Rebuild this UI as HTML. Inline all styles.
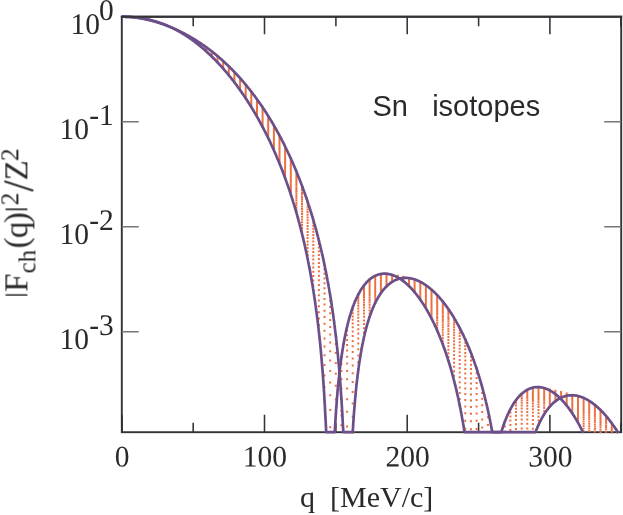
<!DOCTYPE html>
<html><head><meta charset="utf-8"><title>Sn isotopes form factor</title>
<style>html,body{margin:0;padding:0;background:#fff}body{width:623px;height:515px;position:relative;overflow:hidden;font-family:"Liberation Serif",serif}</style></head>
<body>
<svg width="623" height="515" viewBox="0 0 623 515" style="position:absolute;left:0;top:0">
<defs><clipPath id="c"><rect x="121.8" y="16.7" width="499.4" height="416.7"/></clipPath></defs>
<rect width="623" height="515" fill="#fff"/>
<rect x="121.8" y="16.7" width="499.4" height="415.5" fill="none" stroke="#333337" stroke-width="1.9"/>
<path d="M264.5,16.7v17.5M264.5,432.2v-17.5M407.2,16.7v17.5M407.2,432.2v-17.5M549.9,16.7v17.5M549.9,432.2v-17.5M193.2,16.7v9.5M193.2,432.2v-9.5M335.9,16.7v9.5M335.9,432.2v-9.5M478.6,16.7v9.5M478.6,432.2v-9.5M620.8,16.7v9.5M620.8,432.2v-9.5M122.1,432.2v-17" stroke="#333337" stroke-width="1.55" fill="none"/>
<path d="M121.8,121.7h17M621.2,121.7h-17M121.8,226.7h17M621.2,226.7h-17M121.8,331.7h17M621.2,331.7h-17" stroke="#777779" stroke-width="1.45" fill="none"/>
<g clip-path="url(#c)"><path d="M127.4,15.8v2M127.4,15.9v2M133.1,16.1v2M133.1,16.2v2M133.1,16.3v2M138.7,16.7v2M138.7,16.8v2M138.7,16.9v2M138.7,17v2M144.3,17.6v2M144.3,17.7v2M144.3,17.8v2M144.3,17.9v2M144.3,18v2M150,18.8v2M150,18.9v2M150,19v2M150,19.1v2M150,19.2v2M150,19.3v2M155.6,20.4v2M155.6,20.5v2M155.6,20.6v2M155.6,20.7v2M155.6,20.8v2M161.2,22.2v2M161.2,22.3v2M161.2,22.4v2M161.2,22.5v2M161.2,22.6v2M166.9,24.4v2M166.9,24.5v2M166.9,24.6v2M172.5,27v2M172.5,26.9v2M178.1,29.9v2M178.1,29.8v2M178.1,29.7v2M178.1,29.6v2M178.1,29.5v2M183.7,33.3v2M183.7,33.2v2M183.7,33.1v2M183.7,33v2M183.7,32.9v2M183.7,32.8v2M183.7,32.7v2M183.7,32.6v2M183.7,32.5v2M183.7,32.4v2M183.7,32.3v2M189.4,36.9v2M189.4,36.8v2M189.4,36.7v2M189.4,36.6v2M189.4,36.5v2M189.4,36.4v2M189.4,36.3v2M189.4,36.2v2M189.4,36.1v2M189.4,36v2M189.4,35.9v2M189.4,35.8v2M189.4,35.7v2M189.4,35.6v2M189.4,35.5v2M189.4,35.4v2M189.4,35.3v2M195,41v2M195,40.9v2M195,40.8v2M195,40.6v2M195,40.5v2M195,40.4v2M195,40.2v2M195,40.1v2M195,40v2M195,39.9v2M195,39.7v2M195,39.6v2M195,39.5v2M195,39.4v2M195,39.3v2M195,39.1v2M195,39v2M195,38.9v2M195,38.8v2M195,38.7v2M200.6,45.5v2M200.6,45.3v2M200.6,45.1v2M200.6,45v2M200.6,44.8v2M200.6,44.6v2M200.6,44.4v2M200.6,44.3v2M200.6,44.1v2M200.6,43.9v2M200.6,43.8v2M200.6,43.6v2M200.6,43.4v2M200.6,43.3v2M200.6,43.1v2M200.6,43v2M200.6,42.8v2M200.6,42.6v2M200.6,42.5v2M200.6,42.3v2M206.3,50.4v2M206.3,50.1v2M206.3,49.9v2M206.3,49.7v2M206.3,49.5v2M206.3,49.2v2M206.3,49v2M206.3,48.8v2M206.3,48.6v2M206.3,48.4v2M206.3,48.1v2M206.3,47.9v2M206.3,47.7v2M206.3,47.5v2M206.3,47.3v2M206.3,47.1v2M206.3,46.9v2M206.3,46.7v2M206.3,46.5v2M206.3,46.3v2M211.9,55.7v2M211.9,55.4v2M211.9,55.1v2M211.9,54.8v2M211.9,54.5v2M211.9,54.2v2M211.9,54v2M211.9,53.7v2M211.9,53.4v2M211.9,53.2v2M211.9,52.9v2M211.9,52.6v2M211.9,52.3v2M211.9,52.1v2M211.9,51.8v2M211.9,51.6v2M211.9,51.3v2M211.9,51v2M211.9,50.8v2M211.9,50.5v2M217.5,61.4v2M217.5,61v2M217.5,60.7v2M217.5,60.3v2M217.5,60v2M217.5,59.7v2M217.5,59.3v2M217.5,59v2M217.5,58.7v2M217.5,58.3v2M217.5,58v2M217.5,57.7v2M217.5,57.3v2M217.5,57v2M217.5,56.7v2M217.5,56.4v2M217.5,56v2M217.5,55.7v2M217.5,55.4v2M217.5,55.1v2M223.2,67.6v2M223.2,67.1v2M223.2,66.7v2M223.2,66.3v2M223.2,65.9v2M223.2,65.5v2M223.2,65.1v2M223.2,64.7v2M223.2,64.3v2M223.2,63.9v2M223.2,63.5v2M223.2,63.1v2M223.2,62.7v2M223.2,62.3v2M223.2,61.9v2M223.2,61.5v2M223.2,61.2v2M223.2,60.8v2M223.2,60.4v2M223.2,60v2M228.8,74.2v2M228.8,73.7v2M228.8,73.2v2M228.8,72.7v2M228.8,72.3v2M228.8,71.8v2M228.8,71.3v2M228.8,70.8v2M228.8,70.4v2M228.8,69.9v2M228.8,69.4v2M228.8,69v2M228.8,68.5v2M228.8,68v2M228.8,67.6v2M228.8,67.1v2M228.8,66.7v2M228.8,66.2v2M228.8,65.8v2M228.8,65.3v2M234.4,81.4v2M234.4,80.8v2M234.4,80.2v2M234.4,79.6v2M234.4,79.1v2M234.4,78.5v2M234.4,78v2M234.4,77.4v2M234.4,76.9v2M234.4,76.3v2M234.4,75.8v2M234.4,75.2v2M234.4,74.7v2M234.4,74.2v2M234.4,73.6v2M234.4,73.1v2M234.4,72.6v2M234.4,72.1v2M234.4,71.5v2M234.4,71v2M240.1,89v2M240.1,88.4v2M240.1,87.7v2M240.1,87.1v2M240.1,86.4v2M240.1,85.8v2M240.1,85.1v2M240.1,84.5v2M240.1,83.8v2M240.1,83.2v2M240.1,82.6v2M240.1,82v2M240.1,81.4v2M240.1,80.7v2M240.1,80.1v2M240.1,79.5v2M240.1,78.9v2M240.1,78.3v2M240.1,77.7v2M240.1,77.1v2M245.7,97.3v2M245.7,96.5v2M245.7,95.8v2M245.7,95v2M245.7,94.3v2M245.7,93.5v2M245.7,92.8v2M245.7,92.1v2M245.7,91.3v2M245.7,90.6v2M245.7,89.9v2M245.7,89.2v2M245.7,88.5v2M245.7,87.8v2M245.7,87.1v2M245.7,86.4v2M245.7,85.7v2M245.7,85v2M245.7,84.3v2M245.7,83.7v2M251.3,106.1v2M251.3,105.3v2M251.3,104.4v2M251.3,103.6v2M251.3,102.7v2M251.3,101.9v2M251.3,101v2M251.3,100.2v2M251.3,99.4v2M251.3,98.6v2M251.3,97.8v2M251.3,97v2M251.3,96.2v2M251.3,95.4v2M251.3,94.6v2M251.3,93.8v2M251.3,93v2M251.3,92.2v2M251.3,91.5v2M251.3,90.7v2M257,115.7v2M257,114.7v2M257,113.7v2M257,112.7v2M257,111.8v2M257,110.8v2M257,109.9v2M257,109v2M257,108v2M257,107.1v2M257,106.2v2M257,105.3v2M257,104.4v2M257,103.5v2M257,102.6v2M257,101.7v2M257,100.8v2M257,100v2M257,99.1v2M257,98.2v2M262.6,125.9v2M262.6,124.8v2M262.6,123.7v2M262.6,122.7v2M262.6,121.6v2M262.6,120.5v2M262.6,119.4v2M262.6,118.4v2M262.6,117.3v2M262.6,116.3v2M262.6,115.3v2M262.6,114.2v2M262.6,113.2v2M262.6,112.2v2M262.6,111.2v2M262.6,110.2v2M262.6,109.2v2M262.6,108.3v2M262.6,107.3v2M262.6,106.3v2M268.2,137.1v2M268.2,135.8v2M268.2,134.6v2M268.2,133.4v2M268.2,132.1v2M268.2,130.9v2M268.2,129.7v2M268.2,128.6v2M268.2,127.4v2M268.2,126.2v2M268.2,125v2M268.2,123.9v2M268.2,122.8v2M268.2,121.6v2M268.2,120.5v2M268.2,119.4v2M268.2,118.3v2M268.2,117.2v2M268.2,116.1v2M268.2,115v2M273.9,149.2v2M273.9,147.8v2M273.9,146.4v2M273.9,145v2M273.9,143.6v2M273.9,142.2v2M273.9,140.9v2M273.9,139.6v2M273.9,138.2v2M273.9,136.9v2M273.9,135.6v2M273.9,134.3v2M273.9,133v2M273.9,131.8v2M273.9,130.5v2M273.9,129.3v2M273.9,128v2M273.9,126.8v2M273.9,125.6v2M273.9,124.4v2M279.5,162.4v2M279.5,160.8v2M279.5,159.2v2M279.5,157.6v2M279.5,156.1v2M279.5,154.6v2M279.5,153v2M279.5,151.5v2M279.5,150v2M279.5,148.5v2M279.5,147.1v2M279.5,145.6v2M279.5,144.2v2M279.5,142.8v2M279.5,141.4v2M279.5,140v2M279.5,138.6v2M279.5,137.2v2M279.5,135.8v2M279.5,134.5v2M285.1,177v2M285.1,175.2v2M285.1,173.4v2M285.1,171.6v2M285.1,169.8v2M285.1,168v2M285.1,166.3v2M285.1,164.6v2M285.1,162.9v2M285.1,161.2v2M285.1,159.6v2M285.1,157.9v2M285.1,156.3v2M285.1,154.7v2M285.1,153.1v2M285.1,151.6v2M285.1,150v2M285.1,148.5v2M285.1,147v2M285.1,145.5v2M290.8,193.2v2M290.8,191.1v2M290.8,189v2M290.8,187v2M290.8,184.9v2M290.8,182.9v2M290.8,181v2M290.8,179v2M290.8,177.1v2M290.8,175.2v2M290.8,173.3v2M290.8,171.4v2M290.8,169.6v2M290.8,167.8v2M290.8,166v2M290.8,164.2v2M290.8,162.5v2M290.8,160.8v2M290.8,159.1v2M290.8,157.4v2M296.4,211.6v2M296.4,209.1v2M296.4,206.7v2M296.4,204.3v2M296.4,201.9v2M296.4,199.6v2M296.4,197.3v2M296.4,195v2M296.4,192.8v2M296.4,190.6v2M296.4,188.5v2M296.4,186.4v2M296.4,184.3v2M296.4,182.2v2M296.4,180.2v2M296.4,178.2v2M296.4,176.2v2M296.4,174.2v2M296.4,172.3v2M296.4,170.4v2M302,232.7v2M302,229.8v2M302,226.9v2M302,224v2M302,221.2v2M302,218.5v2M302,215.8v2M302,213.1v2M302,210.6v2M302,208v2M302,205.5v2M302,203.1v2M302,200.6v2M302,198.3v2M302,195.9v2M302,193.6v2M302,191.4v2M302,189.1v2M302,186.9v2M302,184.8v2M307.6,257.8v2M307.6,254.1v2M307.6,250.6v2M307.6,247.1v2M307.6,243.7v2M307.6,240.4v2M307.6,237.1v2M307.6,234v2M307.6,230.9v2M307.6,227.8v2M307.6,224.9v2M307.6,222v2M307.6,219.2v2M307.6,216.4v2M307.6,213.7v2M307.6,211v2M307.6,208.4v2M307.6,205.8v2M307.6,203.2v2M307.6,200.8v2M313.3,289v2M313.3,284.2v2M313.3,279.5v2M313.3,275.1v2M313.3,270.7v2M313.3,266.6v2M313.3,262.5v2M313.3,258.6v2M313.3,254.8v2M313.3,251.1v2M313.3,247.5v2M313.3,244v2M313.3,240.6v2M313.3,237.2v2M313.3,234v2M313.3,230.8v2M313.3,227.7v2M313.3,224.7v2M313.3,221.7v2M313.3,218.8v2M318.9,331.1v2M318.9,324.1v2M318.9,317.5v2M318.9,311.2v2M318.9,305.3v2M318.9,299.6v2M318.9,294.2v2M318.9,289.1v2M318.9,284.1v2M318.9,279.3v2M318.9,274.8v2M318.9,270.3v2M318.9,266v2M318.9,261.9v2M318.9,257.9v2M318.9,254v2M318.9,250.2v2M318.9,246.6v2M318.9,243v2M318.9,239.5v2M324.5,399.3v2M324.5,386.1v2M324.5,374.4v2M324.5,363.9v2M324.5,354.3v2M324.5,345.5v2M324.5,337.4v2M324.5,329.8v2M324.5,322.7v2M324.5,316v2M324.5,309.7v2M324.5,303.6v2M324.5,297.9v2M324.5,292.5v2M324.5,287.3v2M324.5,282.2v2M324.5,277.4v2M324.5,272.8v2M324.5,268.3v2M324.5,264v2M330.2,426.2v2M330.2,409v2M330.2,394.3v2M330.2,381.4v2M330.2,369.9v2M330.2,359.6v2M330.2,350.2v2M330.2,341.5v2M330.2,333.4v2M330.2,325.9v2M330.2,318.9v2M330.2,312.2v2M330.2,305.9v2M330.2,300v2M330.2,294.3v2M335.8,413.6v2M335.8,428.2v2M335.8,414.3v2M335.8,398.5v2M335.8,384.8v2M335.8,372.8v2M335.8,361.9v2M335.8,352.1v2M335.8,343.1v2M335.8,334.7v2M341.4,356.2v2M341.4,362.8v2M341.4,370.1v2M341.4,378.3v2M341.4,387.5v2M341.4,397.9v2M341.4,410v2M341.4,424.3v2M341.4,414.4v2M341.4,398.3v2M347.1,325.7v2M347.1,329.8v2M347.1,334.2v2M347.1,338.9v2M347.1,344.1v2M347.1,349.6v2M347.1,355.8v2M347.1,362.5v2M347.1,369.9v2M347.1,378.2v2M347.1,387.6v2M347.1,398.3v2M347.1,410.7v2M347.1,425.5v2M352.7,306.4v2M352.7,309.2v2M352.7,312.2v2M352.7,315.4v2M352.7,318.8v2M352.7,322.4v2M352.7,326.3v2M352.7,330.5v2M352.7,335v2M352.7,339.9v2M352.7,345.2v2M352.7,351v2M352.7,357.4v2M352.7,364.4v2M352.7,372.2v2M352.7,381v2M352.7,390.9v2M352.7,402.4v2M352.7,415.8v2M352.7,431.9v2M358.3,293.4v2M358.3,295.4v2M358.3,297.5v2M358.3,299.8v2M358.3,302.2v2M358.3,304.8v2M358.3,307.5v2M358.3,310.4v2M358.3,313.5v2M358.3,316.8v2M358.3,320.3v2M358.3,324.1v2M358.3,328.2v2M358.3,332.6v2M358.3,337.4v2M358.3,342.6v2M358.3,348.3v2M358.3,354.4v2M358.3,361.3v2M358.3,368.8v2M364,284.5v2M364,285.9v2M364,287.5v2M364,289.1v2M364,290.8v2M364,292.7v2M364,294.7v2M364,296.8v2M364,299v2M364,301.4v2M364,303.9v2M364,306.6v2M364,309.5v2M364,312.6v2M364,315.8v2M364,319.4v2M364,323.1v2M364,327.2v2M364,331.6v2M364,336.3v2M369.6,278.5v2M369.6,279.5v2M369.6,280.6v2M369.6,281.8v2M369.6,283.1v2M369.6,284.4v2M369.6,285.8v2M369.6,287.4v2M369.6,289v2M369.6,290.8v2M369.6,292.6v2M369.6,294.6v2M369.6,296.7v2M369.6,298.9v2M369.6,301.3v2M369.6,303.8v2M369.6,306.6v2M369.6,309.4v2M369.6,312.5v2M369.6,315.9v2M375.2,274.8v2M375.2,275.5v2M375.2,276.2v2M375.2,277v2M375.2,277.9v2M375.2,278.9v2M375.2,279.9v2M375.2,281v2M375.2,282.2v2M375.2,283.4v2M375.2,284.8v2M375.2,286.2v2M375.2,287.8v2M375.2,289.4v2M375.2,291.2v2M375.2,293.1v2M375.2,295.1v2M375.2,297.2v2M375.2,299.5v2M375.2,301.9v2M380.9,273v2M380.9,273.4v2M380.9,273.8v2M380.9,274.3v2M380.9,274.9v2M380.9,275.5v2M380.9,276.2v2M380.9,276.9v2M380.9,277.7v2M380.9,278.6v2M380.9,279.6v2M380.9,280.6v2M380.9,281.7v2M380.9,282.9v2M380.9,284.2v2M380.9,285.6v2M380.9,287.1v2M380.9,288.7v2M380.9,290.4v2M380.9,292.2v2M386.5,272.8v2M386.5,272.9v2M386.5,273v2M386.5,273.3v2M386.5,273.5v2M386.5,273.8v2M386.5,274.2v2M386.5,274.7v2M386.5,275.2v2M386.5,275.7v2M386.5,276.4v2M386.5,277.1v2M386.5,277.8v2M386.5,278.7v2M386.5,279.6v2M386.5,280.6v2M386.5,281.7v2M386.5,282.8v2M386.5,284.1v2M386.5,285.4v2M392.1,274v2M392.1,273.8v2M392.1,273.7v2M392.1,273.9v2M392.1,274.2v2M392.1,274.5v2M392.1,274.9v2M392.1,275.3v2M392.1,275.7v2M392.1,276.3v2M392.1,276.9v2M392.1,277.5v2M392.1,278.2v2M392.1,279v2M392.1,279.9v2M392.1,280.9v2M397.8,276.4v2M397.8,276v2M397.8,275.7v2M397.8,275.4v2M397.8,275.2v2M397.8,275v2M397.8,274.8v2M397.8,274.7v2M397.8,274.9v2M397.8,275.1v2M397.8,276.1v2M397.8,276.5v2M397.8,277v2M397.8,277.5v2M397.8,278.2v2M403.4,280.2v2M403.4,279.5v2M403.4,278.9v2M403.4,278.4v2M403.4,277.9v2M403.4,277.5v2M403.4,277.1v2M403.4,276.7v2M403.4,276.5v2M403.4,276.2v2M403.4,276.1v2M403.4,275.9v2M403.4,275.8v2M403.4,276v2M403.4,276.4v2M403.4,276.6v2M403.4,277v2M409,285.1v2M409,284.2v2M409,283.3v2M409,282.5v2M409,281.8v2M409,281.1v2M409,280.5v2M409,279.9v2M409,279.4v2M409,278.9v2M409,278.5v2M409,278.1v2M409,277.8v2M409,277.5v2M409,277.3v2M409,277.2v2M409,277.1v2M409,277v2M414.6,291.2v2M414.6,290v2M414.6,288.9v2M414.6,287.9v2M414.6,286.9v2M414.6,285.9v2M414.6,285v2M414.6,284.2v2M414.6,283.4v2M414.6,282.7v2M414.6,282v2M414.6,281.4v2M414.6,280.8v2M414.6,280.3v2M414.6,279.9v2M414.6,279.5v2M414.6,279.1v2M414.6,278.8v2M414.6,278.6v2M414.6,278.4v2M420.3,298.6v2M420.3,297.1v2M420.3,295.7v2M420.3,294.4v2M420.3,293.1v2M420.3,291.9v2M420.3,290.7v2M420.3,289.6v2M420.3,288.6v2M420.3,287.6v2M420.3,286.7v2M420.3,285.8v2M420.3,285v2M420.3,284.2v2M420.3,283.5v2M420.3,282.8v2M420.3,282.3v2M420.3,281.7v2M420.3,281.2v2M420.3,280.8v2M425.9,307.3v2M425.9,305.5v2M425.9,303.8v2M425.9,302.2v2M425.9,300.6v2M425.9,299.1v2M425.9,297.6v2M425.9,296.2v2M425.9,294.9v2M425.9,293.6v2M425.9,292.4v2M425.9,291.3v2M425.9,290.2v2M425.9,289.2v2M425.9,288.2v2M425.9,287.3v2M425.9,286.4v2M425.9,285.6v2M425.9,284.9v2M425.9,284.2v2M431.5,317.5v2M431.5,315.4v2M431.5,313.3v2M431.5,311.3v2M431.5,309.3v2M431.5,307.5v2M431.5,305.7v2M431.5,304v2M431.5,302.4v2M431.5,300.8v2M431.5,299.3v2M431.5,297.9v2M431.5,296.5v2M431.5,295.2v2M431.5,293.9v2M431.5,292.8v2M431.5,291.6v2M431.5,290.6v2M431.5,289.6v2M431.5,288.7v2M437.2,329.5v2M437.2,326.8v2M437.2,324.3v2M437.2,321.9v2M437.2,319.6v2M437.2,317.3v2M437.2,315.2v2M437.2,313.1v2M437.2,311.1v2M437.2,309.2v2M437.2,307.4v2M437.2,305.6v2M437.2,303.9v2M437.2,302.3v2M437.2,300.8v2M437.2,299.3v2M437.2,297.9v2M437.2,296.6v2M437.2,295.3v2M437.2,294.1v2M442.8,343.4v2M442.8,340.2v2M442.8,337.2v2M442.8,334.3v2M442.8,331.5v2M442.8,328.8v2M442.8,326.2v2M442.8,323.7v2M442.8,321.3v2M442.8,319v2M442.8,316.8v2M442.8,314.7v2M442.8,312.6v2M442.8,310.7v2M442.8,308.8v2M442.8,307v2M442.8,305.3v2M442.8,303.6v2M442.8,302.1v2M442.8,300.6v2M448.4,359.9v2M448.4,356v2M448.4,352.3v2M448.4,348.7v2M448.4,345.3v2M448.4,342.1v2M448.4,338.9v2M448.4,336v2M448.4,333.1v2M448.4,330.3v2M448.4,327.7v2M448.4,325.1v2M448.4,322.7v2M448.4,320.3v2M448.4,318.1v2M448.4,315.9v2M448.4,313.8v2M448.4,311.9v2M448.4,310v2M448.4,308.1v2M454.1,379.7v2M454.1,374.8v2M454.1,370.2v2M454.1,365.8v2M454.1,361.7v2M454.1,357.7v2M454.1,353.9v2M454.1,350.3v2M454.1,346.8v2M454.1,343.5v2M454.1,340.3v2M454.1,337.2v2M454.1,334.3v2M454.1,331.5v2M454.1,328.8v2M454.1,326.2v2M454.1,323.7v2M454.1,321.4v2M454.1,319.1v2M454.1,316.9v2M459.7,404.2v2M459.7,397.9v2M459.7,392v2M459.7,386.5v2M459.7,381.3v2M459.7,376.3v2M459.7,371.6v2M459.7,367.2v2M459.7,362.9v2M459.7,358.9v2M459.7,355v2M459.7,351.3v2M459.7,347.8v2M459.7,344.4v2M459.7,341.2v2M459.7,338.1v2M459.7,335.1v2M459.7,332.3v2M459.7,329.6v2M459.7,327v2M465.3,427.7v2M465.3,419.7v2M465.3,412.3v2M465.3,405.5v2M465.3,399.1v2M465.3,393.1v2M465.3,387.5v2M465.3,382.2v2M465.3,377.2v2M465.3,372.4v2M465.3,367.9v2M465.3,363.6v2M465.3,359.5v2M465.3,355.6v2M465.3,351.9v2M465.3,348.3v2M465.3,344.9v2M465.3,341.7v2M465.3,338.6v2M471,428.3v2M471,420.3v2M471,412.8v2M471,405.9v2M471,399.5v2M471,393.4v2M471,387.8v2M471,382.4v2M471,377.4v2M471,372.6v2M471,368v2M471,363.7v2M471,359.6v2M471,355.7v2M471,352v2M476.6,427.9v2M476.6,419.8v2M476.6,412.4v2M476.6,405.5v2M476.6,399v2M476.6,393v2M476.6,387.3v2M476.6,382v2M476.6,376.9v2M476.6,372.2v2M476.6,367.6v2M482.2,426.4v2M482.2,418.4v2M482.2,411.1v2M482.2,404.2v2M482.2,397.8v2M482.2,391.9v2M482.2,386.2v2M487.9,424v2M487.9,416.2v2M487.9,408.9v2M504.8,420.9v2M504.8,425.6v2M504.8,430.7v2M510.4,408.1v2M510.4,411.6v2M510.4,415.4v2M510.4,419.6v2M510.4,424.1v2M510.4,429.1v2M516,399.1v2M516,401.7v2M516,404.6v2M516,407.7v2M516,411v2M516,414.7v2M516,418.8v2M516,423.2v2M516,428v2M521.7,392.8v2M521.7,394.8v2M521.7,396.9v2M521.7,399.2v2M521.7,401.7v2M521.7,404.5v2M521.7,407.5v2M521.7,410.8v2M521.7,414.5v2M521.7,418.4v2M521.7,422.7v2M521.7,427.5v2M527.3,388.8v2M527.3,390.2v2M527.3,391.7v2M527.3,393.4v2M527.3,395.2v2M527.3,397.3v2M527.3,399.5v2M527.3,402v2M527.3,404.8v2M527.3,407.7v2M527.3,411v2M527.3,414.6v2M527.3,418.5v2M527.3,422.7v2M527.3,427.4v2M532.9,386.6v2M532.9,387.5v2M532.9,388.5v2M532.9,389.6v2M532.9,390.9v2M532.9,392.4v2M532.9,394.1v2M532.9,395.9v2M532.9,397.9v2M532.9,400.1v2M532.9,402.6v2M532.9,405.3v2M532.9,408.2v2M532.9,411.5v2M532.9,415v2M532.9,418.9v2M532.9,423.1v2M532.9,427.8v2M538.5,386.1v2M538.5,386.5v2M538.5,387v2M538.5,387.7v2M538.5,388.5v2M538.5,389.5v2M538.5,390.6v2M538.5,391.9v2M538.5,393.3v2M538.5,394.9v2M538.5,396.7v2M538.5,398.7v2M538.5,400.9v2M538.5,403.4v2M538.5,406v2M538.5,409v2M538.5,412.2v2M538.5,415.7v2M538.5,419.6v2M538.5,423.9v2M544.2,387.1v2M544.2,387.4v2M544.2,387.7v2M544.2,388.2v2M544.2,388.9v2M544.2,389.6v2M544.2,390.6v2M544.2,391.7v2M544.2,392.9v2M544.2,394.3v2M544.2,395.9v2M544.2,397.7v2M544.2,399.7v2M544.2,401.9v2M544.2,404.4v2M544.2,407v2M544.2,410v2M544.2,413.2v2M549.8,389.4v2M549.8,389v2M549.8,388.7v2M549.8,388.5v2M549.8,388.4v2M549.8,389.5v2M549.8,390.1v2M549.8,390.8v2M549.8,391.8v2M549.8,392.8v2M549.8,394.1v2M549.8,395.5v2M549.8,397.1v2M549.8,398.9v2M549.8,400.9v2M549.8,403.1v2M549.8,405.6v2M555.4,393.1v2M555.4,392.3v2M555.4,391.5v2M555.4,390.9v2M555.4,390.4v2M555.4,390.1v2M555.4,389.9v2M555.4,389.8v2M555.4,390v2M555.4,390.3v2M555.4,390.8v2M555.4,391.4v2M555.4,392.1v2M555.4,393v2M555.4,394.1v2M555.4,395.3v2M555.4,396.8v2M555.4,398.4v2M555.4,400.2v2M561.1,398.2v2M561.1,396.9v2M561.1,395.7v2M561.1,394.7v2M561.1,393.8v2M561.1,393v2M561.1,392.4v2M561.1,391.9v2M561.1,391.5v2M561.1,391.2v2M561.1,391.1v2M561.1,391.3v2M561.1,391.6v2M561.1,392.1v2M561.1,392.7v2M561.1,393.4v2M561.1,394.3v2M561.1,395.4v2M561.1,396.7v2M566.7,404.6v2M566.7,402.8v2M566.7,401.2v2M566.7,399.7v2M566.7,398.4v2M566.7,397.2v2M566.7,396.1v2M566.7,395.2v2M566.7,394.4v2M566.7,393.8v2M566.7,393.2v2M566.7,392.8v2M566.7,392.6v2M566.7,392.5v2M566.7,392.9v2M566.7,393.4v2M566.7,394v2M566.7,394.8v2M572.3,412.3v2M572.3,410.1v2M572.3,408v2M572.3,406.1v2M572.3,404.3v2M572.3,402.7v2M572.3,401.2v2M572.3,399.8v2M572.3,398.6v2M572.3,397.5v2M572.3,396.5v2M572.3,395.7v2M572.3,395.1v2M572.3,394.5v2M572.3,394.1v2M572.3,393.9v2M572.3,393.8v2M572.3,394v2M572.3,394.3v2M578,421.8v1.8M578,419.9v1.8M578,418v1.8M578,416.2v1.8M578,414.5v1.8M578,412.8v1.8M578,411.2v1.8M578,409.6v1.8M578,408.1v1.8M578,406.6v1.8M578,405.2v1.8M578,403.9v1.8M578,402.6v1.8M578,401.4v1.8M578,400.2v1.8M578,399.1v1.8M578,398v1.8M578,397v1.8M578,396v1.8M578,395.1v1.8M583.6,430.2v1.8M583.6,427.7v1.8M583.6,425.3v1.8M583.6,423v1.8M583.6,420.7v1.8M583.6,418.5v1.8M583.6,416.4v1.8M583.6,414.4v1.8M583.6,412.5v1.8M583.6,410.6v1.8M583.6,408.8v1.8M583.6,407v1.8M583.6,405.4v1.8M583.6,403.8v1.8M583.6,402.3v1.8M583.6,400.9v1.8M583.6,399.5v1.8M583.6,398.2v1.8M583.6,397v1.8M589.2,430.1v1.8M589.2,427.6v1.8M589.2,425.2v1.8M589.2,422.9v1.8M589.2,420.7v1.8M589.2,418.5v1.8M589.2,416.4v1.8M589.2,414.4v1.8M589.2,412.5v1.8M589.2,410.7v1.8M589.2,408.9v1.8M589.2,407.2v1.8M589.2,405.6v1.8M589.2,404.1v1.8M589.2,402.7v1.8M589.2,401.3v1.8M589.2,400v1.8M594.9,430.6v1.8M594.9,428.1v1.8M594.9,425.8v1.8M594.9,423.5v1.8M594.9,421.3v1.8M594.9,419.2v1.8M594.9,417.2v1.8M594.9,415.2v1.8M594.9,413.4v1.8M594.9,411.6v1.8M594.9,409.9v1.8M594.9,408.3v1.8M594.9,406.8v1.8M594.9,405.4v1.8M594.9,404v1.8M600.5,431.4v1.8M600.5,429v1.8M600.5,426.8v1.8M600.5,424.6v1.8M600.5,422.6v1.8M600.5,420.6v1.8M600.5,418.7v1.8M600.5,416.9v1.8M600.5,415.1v1.8M600.5,413.5v1.8M600.5,411.9v1.8M600.5,410.5v1.8M600.5,409.1v1.8M606.1,430.9v1.8M606.1,428.8v1.8M606.1,426.8v1.8M606.1,424.9v1.8M606.1,423v1.8M606.1,421.3v1.8M606.1,419.6v1.8M606.1,418.1v1.8M606.1,416.6v1.8M606.1,415.2v1.8M611.8,432.2v1.8M611.8,430.3v1.8M611.8,428.5v1.8M611.8,426.8v1.8M611.8,425.3v1.8M611.8,423.8v1.8M611.8,422.3v1.8M617.4,432v1.8M617.4,430.6v1.8" stroke="#ee7040" stroke-width="2" fill="none"/></g>
<path d="M123.2,16.7 123.6,16.7 123.9,16.7 124.3,16.7 124.7,16.7 125,16.7 125.4,16.7 125.7,16.8 126.1,16.8 126.4,16.8 126.8,16.8 127.2,16.8 127.5,16.8 127.9,16.8 128.2,16.8 128.6,16.9 128.9,16.9 129.3,16.9 129.6,16.9 130,16.9 130.4,17 130.7,17 131.1,17 131.4,17 131.8,17 132.1,17.1 132.5,17.1 132.9,17.1 133.2,17.2 133.6,17.2 133.9,17.2 134.3,17.3 134.6,17.3 135,17.3 135.4,17.4 135.7,17.4 136.1,17.4 136.4,17.5 136.8,17.5 137.1,17.6 137.5,17.6 137.9,17.6 138.2,17.7 138.6,17.7 138.9,17.8 139.3,17.8 139.6,17.9 140,17.9 140.4,18 140.7,18 141.1,18.1 141.4,18.1 141.8,18.2 142.1,18.3 142.5,18.3 142.8,18.4 143.2,18.4 143.6,18.5 143.9,18.6 144.3,18.6 144.6,18.7 145,18.8 145.3,18.8 145.7,18.9 146.1,19 146.4,19.1 146.8,19.1 147.1,19.2 147.5,19.3 147.8,19.4 148.2,19.4 148.6,19.5 148.9,19.6 149.3,19.7 149.6,19.8 150,19.8 150.3,19.9 150.7,20 151.1,20.1 151.4,20.2 151.8,20.3 152.1,20.4 152.5,20.5 152.8,20.6 153.2,20.7 153.6,20.8 153.9,20.9 154.3,21 154.6,21.1 155,21.2 155.3,21.3 155.7,21.4 156,21.5 156.4,21.6 156.8,21.7 157.1,21.8 157.5,22 157.8,22.1 158.2,22.2 158.5,22.3 158.9,22.4 159.3,22.5 159.6,22.7 160,22.8 160.3,22.9 160.7,23 161,23.2 161.4,23.3 161.8,23.4 162.1,23.6 162.5,23.7 162.8,23.8 163.2,24 163.5,24.1 163.9,24.2 164.3,24.4 164.6,24.5 165,24.7 165.3,24.8 165.7,25 166,25.1 166.4,25.3 166.8,25.4 167.1,25.6 167.5,25.7 167.8,25.9 168.2,26 168.5,26.2 168.9,26.3 169.2,26.5 169.6,26.7 170,26.8 170.3,27 170.7,27.1 171,27.3 171.4,27.5 171.7,27.7 172.1,27.8 172.5,28 172.8,28.2 173.2,28.4 173.5,28.5 173.9,28.7 174.2,28.9 174.6,29.1 175,29.3 175.3,29.4 175.7,29.6 176,29.8 176.4,30 176.7,30.2 177.1,30.4 177.5,30.6 177.8,30.8 178.2,31 178.5,31.2 178.9,31.4 179.2,31.6 179.6,31.8 180,32 180.3,32.2 180.7,32.4 181,32.6 181.4,32.8 181.7,33 182.1,33.2 182.4,33.5 182.8,33.7 183.2,33.9 183.5,34.1 183.9,34.3 184.2,34.6 184.6,34.8 184.9,35 185.3,35.2 185.7,35.5 186,35.7 186.4,35.9 186.7,36.2 187.1,36.4 187.4,36.6 187.8,36.9 188.2,37.1 188.5,37.4 188.9,37.6 189.2,37.8 189.6,38.1 189.9,38.3 190.3,38.6 190.7,38.8 191,39.1 191.4,39.3 191.7,39.6 192.1,39.8 192.4,40.1 192.8,40.4 193.2,40.6 193.5,40.9 193.9,41.2 194.2,41.4 194.6,41.7 194.9,42 195.3,42.2 195.6,42.5 196,42.8 196.4,43.1 196.7,43.3 197.1,43.6 197.4,43.9 197.8,44.2 198.1,44.5 198.5,44.7 198.9,45 199.2,45.3 199.6,45.6 199.9,45.9 200.3,46.2 200.6,46.5 201,46.8 201.4,47.1 201.7,47.4 202.1,47.7 202.4,48 202.8,48.3 203.1,48.6 203.5,48.9 203.9,49.2 204.2,49.5 204.6,49.8 204.9,50.2 205.3,50.5 205.6,50.8 206,51.1 206.3,51.4 206.7,51.8 207.1,52.1 207.4,52.4 207.8,52.7 208.1,53.1 208.5,53.4 208.8,53.7 209.2,54.1 209.6,54.4 209.9,54.7 210.3,55.1 210.6,55.4 211,55.8 211.3,56.1 211.7,56.5 212.1,56.8 212.4,57.2 212.8,57.5 213.1,57.9 213.5,58.2 213.8,58.6 214.2,58.9 214.6,59.3 214.9,59.7 215.3,60 215.6,60.4 216,60.8 216.3,61.1 216.7,61.5 217.1,61.9 217.4,62.2 217.8,62.6 218.1,63 218.5,63.4 218.8,63.8 219.2,64.2 219.5,64.5 219.9,64.9 220.3,65.3 220.6,65.7 221,66.1 221.3,66.5 221.7,66.9 222,67.3 222.4,67.7 222.8,68.1 223.1,68.5 223.5,68.9 223.8,69.3 224.2,69.7 224.5,70.1 224.9,70.6 225.3,71 225.6,71.4 226,71.8 226.3,72.2 226.7,72.7 227,73.1 227.4,73.5 227.8,73.9 228.1,74.4 228.5,74.8 228.8,75.2 229.2,75.7 229.5,76.1 229.9,76.6 230.3,77 230.6,77.4 231,77.9 231.3,78.3 231.7,78.8 232,79.2 232.4,79.7 232.7,80.2 233.1,80.6 233.5,81.1 233.8,81.5 234.2,82 234.5,82.5 234.9,83 235.2,83.4 235.6,83.9 236,84.4 236.3,84.9 236.7,85.3 237,85.8 237.4,86.3 237.7,86.8 238.1,87.3 238.5,87.8 238.8,88.3 239.2,88.8 239.5,89.3 239.9,89.8 240.2,90.3 240.6,90.8 241,91.3 241.3,91.8 241.7,92.3 242,92.8 242.4,93.3 242.7,93.9 243.1,94.4 243.5,94.9 243.8,95.4 244.2,96 244.5,96.5 244.9,97 245.2,97.6 245.6,98.1 245.9,98.6 246.3,99.2 246.7,99.7 247,100.3 247.4,100.8 247.7,101.4 248.1,101.9 248.4,102.5 248.8,103.1 249.2,103.6 249.5,104.2 249.9,104.8 250.2,105.3 250.6,105.9 250.9,106.5 251.3,107.1 251.7,107.7 252,108.2 252.4,108.8 252.7,109.4 253.1,110 253.4,110.6 253.8,111.2 254.2,111.8 254.5,112.4 254.9,113 255.2,113.6 255.6,114.3 255.9,114.9 256.3,115.5 256.7,116.1 257,116.7 257.4,117.4 257.7,118 258.1,118.6 258.4,119.3 258.8,119.9 259.1,120.6 259.5,121.2 259.9,121.9 260.2,122.5 260.6,123.2 260.9,123.8 261.3,124.5 261.6,125.2 262,125.8 262.4,126.5 262.7,127.2 263.1,127.9 263.4,128.5 263.8,129.2 264.1,129.9 264.5,130.6 264.9,131.3 265.2,132 265.6,132.7 265.9,133.4 266.3,134.1 266.6,134.9 267,135.6 267.4,136.3 267.7,137 268.1,137.8 268.4,138.5 268.8,139.2 269.1,140 269.5,140.7 269.9,141.5 270.2,142.2 270.6,143 270.9,143.7 271.3,144.5 271.6,145.3 272,146.1 272.3,146.8 272.7,147.6 273.1,148.4 273.4,149.2 273.8,150 274.1,150.8 274.5,151.6 274.8,152.4 275.2,153.2 275.6,154.1 275.9,154.9 276.3,155.7 276.6,156.5 277,157.4 277.3,158.2 277.7,159.1 278.1,159.9 278.4,160.8 278.8,161.7 279.1,162.5 279.5,163.4 279.8,164.3 280.2,165.2 280.6,166.1 280.9,167 281.3,167.9 281.6,168.8 282,169.7 282.3,170.6 282.7,171.5 283.1,172.5 283.4,173.4 283.8,174.4 284.1,175.3 284.5,176.3 284.8,177.2 285.2,178.2 285.5,179.2 285.9,180.2 286.3,181.2 286.6,182.1 287,183.2 287.3,184.2 287.7,185.2 288,186.2 288.4,187.2 288.8,188.3 289.1,189.3 289.5,190.4 289.8,191.5 290.2,192.5 290.5,193.6 290.9,194.7 291.3,195.8 291.6,196.9 292,198 292.3,199.1 292.7,200.3 293,201.4 293.4,202.6 293.8,203.7 294.1,204.9 294.5,206.1 294.8,207.3 295.2,208.5 295.5,209.7 295.9,210.9 296.3,212.1 296.6,213.4 297,214.6 297.3,215.9 297.7,217.2 298,218.5 298.4,219.8 298.7,221.1 299.1,222.4 299.5,223.7 299.8,225.1 300.2,226.5 300.5,227.8 300.9,229.2 301.2,230.6 301.6,232.1 302,233.5 302.3,235 302.7,236.4 303,237.9 303.4,239.4 303.7,240.9 304.1,242.5 304.5,244 304.8,245.6 305.2,247.2 305.5,248.8 305.9,250.4 306.2,252.1 306.6,253.8 307,255.5 307.3,257.2 307.7,258.9 308,260.7 308.4,262.5 308.7,264.3 309.1,266.1 309.5,268 309.8,269.9 310.2,271.8 310.5,273.8 310.9,275.8 311.2,277.8 311.6,279.8 311.9,281.9 312.3,284 312.7,286.2 313,288.4 313.4,290.6 313.7,292.9 314.1,295.2 314.4,297.6 314.8,300 315.2,302.5 315.5,305 315.9,307.5 316.2,310.2 316.6,312.9 316.9,315.6 317.3,318.4 317.7,321.3 318,324.3 318.4,327.3 318.7,330.4 319.1,333.7 319.4,337 319.8,340.4 320.2,343.9 320.5,347.5 320.9,351.3 321.2,355.2 321.6,359.2 321.9,363.4 322.3,367.7 322.7,372.3 323,377 323.4,382 323.7,387.2 324.1,392.7 324.4,398.5 324.8,404.6 325.1,411.1 325.5,418.1 325.9,425.6 326.2,432.2 334.4,432.2 334.8,432 335.1,425.5 335.5,419.5 335.9,413.9 336.2,408.7 336.6,403.8 336.9,399.1 337.3,394.8 337.6,390.7 338,386.8 338.3,383.1 338.7,379.6 339.1,376.2 339.4,373 339.8,369.9 340.1,367 340.5,364.2 340.8,361.5 341.2,358.8 341.6,356.3 341.9,353.9 342.3,351.6 342.6,349.4 343,347.2 343.3,345.1 343.7,343.1 344.1,341.1 344.4,339.2 344.8,337.4 345.1,335.6 345.5,333.8 345.8,332.2 346.2,330.5 346.6,328.9 346.9,327.4 347.3,325.9 347.6,324.5 348,323 348.3,321.7 348.7,320.3 349,319 349.4,317.7 349.8,316.5 350.1,315.3 350.5,314.1 350.8,313 351.2,311.9 351.5,310.8 351.9,309.7 352.3,308.7 352.6,307.7 353,306.7 353.3,305.7 353.7,304.8 354,303.9 354.4,303 354.8,302.1 355.1,301.2 355.5,300.4 355.8,299.6 356.2,298.8 356.5,298 356.9,297.3 357.3,296.5 357.6,295.8 358,295.1 358.3,294.4 358.7,293.8 359,293.1 359.4,292.5 359.8,291.8 360.1,291.2 360.5,290.6 360.8,290 361.2,289.5 361.5,288.9 361.9,288.4 362.2,287.8 362.6,287.3 363,286.8 363.3,286.3 363.7,285.9 364,285.4 364.4,284.9 364.7,284.5 365.1,284.1 365.5,283.6 365.8,283.2 366.2,282.8 366.5,282.4 366.9,282.1 367.2,281.7 367.6,281.3 368,281 368.3,280.6 368.7,280.3 369,280 369.4,279.7 369.7,279.4 370.1,279.1 370.5,278.8 370.8,278.5 371.2,278.3 371.5,278 371.9,277.8 372.2,277.5 372.6,277.3 373,277.1 373.3,276.8 373.7,276.6 374,276.4 374.4,276.2 374.7,276.1 375.1,275.9 375.4,275.7 375.8,275.6 376.2,275.4 376.5,275.2 376.9,275.1 377.2,275 377.6,274.8 377.9,274.7 378.3,274.6 378.7,274.5 379,274.4 379.4,274.3 379.7,274.2 380.1,274.1 380.4,274.1 380.8,274 381.2,273.9 381.5,273.9 381.9,273.8 382.2,273.8 382.6,273.8 382.9,273.7 383.3,273.7 383.7,273.7 384,273.7 384.4,273.7 384.7,273.7 385.1,273.7 385.4,273.7 385.8,273.7 386.2,273.7 386.5,273.8 386.9,273.8 387.2,273.8 387.6,273.9 387.9,273.9 388.3,274 388.6,274.1 389,274.1 389.4,274.2 389.7,274.3 390.1,274.4 390.4,274.5 390.8,274.6 391.1,274.7 391.5,274.8 391.9,274.9 392.2,275 392.6,275.1 392.9,275.2 393.3,275.4 393.6,275.5 394,275.6 394.4,275.8 394.7,275.9 395.1,276.1 395.4,276.3 395.8,276.4 396.1,276.6 396.5,276.8 396.9,277 397.2,277.1 397.6,277.3 397.9,277.5 398.3,277.7 398.6,277.9 399,278.1 399.4,278.4 399.7,278.6 400.1,278.8 400.4,279 400.8,279.3 401.1,279.5 401.5,279.8 401.8,280 402.2,280.3 402.6,280.5 402.9,280.8 403.3,281.1 403.6,281.3 404,281.6 404.3,281.9 404.7,282.2 405.1,282.5 405.4,282.8 405.8,283.1 406.1,283.4 406.5,283.7 406.8,284 407.2,284.3 407.6,284.7 407.9,285 408.3,285.3 408.6,285.7 409,286 409.3,286.4 409.7,286.7 410.1,287.1 410.4,287.5 410.8,287.8 411.1,288.2 411.5,288.6 411.8,289 412.2,289.4 412.6,289.8 412.9,290.2 413.3,290.6 413.6,291 414,291.4 414.3,291.8 414.7,292.2 415,292.7 415.4,293.1 415.8,293.6 416.1,294 416.5,294.5 416.8,294.9 417.2,295.4 417.5,295.8 417.9,296.3 418.3,296.8 418.6,297.3 419,297.8 419.3,298.2 419.7,298.7 420,299.2 420.4,299.8 420.8,300.3 421.1,300.8 421.5,301.3 421.8,301.8 422.2,302.4 422.5,302.9 422.9,303.5 423.3,304 423.6,304.6 424,305.1 424.3,305.7 424.7,306.3 425,306.9 425.4,307.5 425.8,308 426.1,308.6 426.5,309.3 426.8,309.9 427.2,310.5 427.5,311.1 427.9,311.7 428.2,312.4 428.6,313 429,313.7 429.3,314.3 429.7,315 430,315.6 430.4,316.3 430.7,317 431.1,317.7 431.5,318.4 431.8,319.1 432.2,319.8 432.5,320.5 432.9,321.2 433.2,321.9 433.6,322.7 434,323.4 434.3,324.2 434.7,324.9 435,325.7 435.4,326.5 435.7,327.2 436.1,328 436.5,328.8 436.8,329.6 437.2,330.4 437.5,331.3 437.9,332.1 438.2,332.9 438.6,333.8 439,334.6 439.3,335.5 439.7,336.3 440,337.2 440.4,338.1 440.7,339 441.1,339.9 441.4,340.8 441.8,341.7 442.2,342.7 442.5,343.6 442.9,344.6 443.2,345.5 443.6,346.5 443.9,347.5 444.3,348.5 444.7,349.5 445,350.5 445.4,351.5 445.7,352.6 446.1,353.6 446.4,354.7 446.8,355.8 447.2,356.8 447.5,357.9 447.9,359.1 448.2,360.2 448.6,361.3 448.9,362.5 449.3,363.6 449.7,364.8 450,366 450.4,367.2 450.7,368.4 451.1,369.7 451.4,370.9 451.8,372.2 452.2,373.5 452.5,374.8 452.9,376.1 453.2,377.4 453.6,378.8 453.9,380.1 454.3,381.5 454.6,382.9 455,384.3 455.4,385.8 455.7,387.3 456.1,388.7 456.4,390.2 456.8,391.8 457.1,393.3 457.5,394.9 457.9,396.5 458.2,398.1 458.6,399.8 458.9,401.5 459.3,403.2 459.6,404.9 460,406.7 460.4,408.5 460.7,410.3 461.1,412.1 461.4,414 461.8,416 462.1,417.9 462.5,419.9 462.9,421.9 463.2,424 463.6,426.1 463.9,428.3 464.3,430.5 464.6,432.2 501,432.2 501.4,431.9 501.7,430.7 502.1,429.6 502.5,428.5 502.8,427.4 503.2,426.3 503.5,425.3 503.9,424.3 504.2,423.3 504.6,422.3 504.9,421.3 505.3,420.4 505.7,419.5 506,418.6 506.4,417.7 506.7,416.9 507.1,416 507.4,415.2 507.8,414.4 508.2,413.6 508.5,412.9 508.9,412.1 509.2,411.4 509.6,410.7 509.9,410 510.3,409.3 510.7,408.6 511,408 511.4,407.3 511.7,406.7 512.1,406.1 512.4,405.5 512.8,404.9 513.2,404.3 513.5,403.7 513.9,403.2 514.2,402.6 514.6,402.1 514.9,401.6 515.3,401.1 515.7,400.6 516,400.1 516.4,399.6 516.7,399.2 517.1,398.7 517.4,398.3 517.8,397.9 518.1,397.4 518.5,397 518.9,396.6 519.2,396.2 519.6,395.9 519.9,395.5 520.3,395.1 520.6,394.8 521,394.4 521.4,394.1 521.7,393.8 522.1,393.5 522.4,393.2 522.8,392.9 523.1,392.6 523.5,392.3 523.9,392 524.2,391.8 524.6,391.5 524.9,391.2 525.3,391 525.6,390.8 526,390.6 526.4,390.3 526.7,390.1 527.1,389.9 527.4,389.7 527.8,389.5 528.1,389.4 528.5,389.2 528.9,389 529.2,388.9 529.6,388.7 529.9,388.6 530.3,388.4 530.6,388.3 531,388.2 531.3,388.1 531.7,388 532.1,387.9 532.4,387.8 532.8,387.7 533.1,387.6 533.5,387.5 533.8,387.4 534.2,387.4 534.6,387.3 534.9,387.3 535.3,387.2 535.6,387.2 536,387.2 536.3,387.1 536.7,387.1 537.1,387.1 537.4,387.1 537.8,387.1 538.1,387.1 538.5,387.1 538.8,387.1 539.2,387.2 539.6,387.2 539.9,387.2 540.3,387.3 540.6,387.3 541,387.4 541.3,387.4 541.7,387.5 542.1,387.5 542.4,387.6 542.8,387.7 543.1,387.8 543.5,387.9 543.8,388 544.2,388.1 544.5,388.2 544.9,388.3 545.3,388.4 545.6,388.6 546,388.7 546.3,388.8 546.7,389 547,389.1 547.4,389.3 547.8,389.4 548.1,389.6 548.5,389.8 548.8,389.9 549.2,390.1 549.5,390.3 549.9,390.5 550.3,390.7 550.6,390.9 551,391.1 551.3,391.3 551.7,391.5 552,391.7 552.4,392 552.8,392.2 553.1,392.4 553.5,392.7 553.8,392.9 554.2,393.2 554.5,393.5 554.9,393.7 555.3,394 555.6,394.3 556,394.6 556.3,394.8 556.7,395.1 557,395.4 557.4,395.7 557.7,396 558.1,396.4 558.5,396.7 558.8,397 559.2,397.3 559.5,397.7 559.9,398 560.2,398.4 560.6,398.7 561,399.1 561.3,399.4 561.7,399.8 562,400.2 562.4,400.5 562.7,400.9 563.1,401.3 563.5,401.7 563.8,402.1 564.2,402.5 564.5,402.9 564.9,403.3 565.2,403.8 565.6,404.2 566,404.6 566.3,405.1 566.7,405.5 567,406 567.4,406.4 567.7,406.9 568.1,407.3 568.5,407.8 568.8,408.3 569.2,408.8 569.5,409.3 569.9,409.8 570.2,410.3 570.6,410.8 570.9,411.3 571.3,411.8 571.7,412.3 572,412.9 572.4,413.4 572.7,413.9 573.1,414.5 573.4,415.1 573.8,415.6 574.2,416.2 574.5,416.8 574.9,417.3 575.2,417.9 575.6,418.5 575.9,419.1 576.3,419.7 576.7,420.3 577,421 577.4,421.6 577.7,422.2 578.1,422.9 578.4,423.5 578.8,424.2 579.2,424.8 579.5,425.5 579.9,426.2 580.2,426.8 580.6,427.5 580.9,428.2 581.3,428.9 581.7,429.6 582,430.4 582.4,431.1 582.7,431.8" stroke="#6b4f89" stroke-width="2.7" fill="none" stroke-linejoin="round" stroke-linecap="square"/>
<path d="M123.2,16.7 123.6,16.7 123.9,16.7 124.3,16.7 124.7,16.7 125,16.8 125.4,16.8 125.7,16.8 126.1,16.8 126.4,16.8 126.8,16.8 127.2,16.8 127.5,16.9 127.9,16.9 128.2,16.9 128.6,16.9 128.9,16.9 129.3,17 129.6,17 130,17 130.4,17.1 130.7,17.1 131.1,17.1 131.4,17.1 131.8,17.2 132.1,17.2 132.5,17.2 132.9,17.3 133.2,17.3 133.6,17.4 133.9,17.4 134.3,17.4 134.6,17.5 135,17.5 135.4,17.6 135.7,17.6 136.1,17.7 136.4,17.7 136.8,17.8 137.1,17.8 137.5,17.9 137.9,17.9 138.2,18 138.6,18 138.9,18.1 139.3,18.1 139.6,18.2 140,18.2 140.4,18.3 140.7,18.4 141.1,18.4 141.4,18.5 141.8,18.6 142.1,18.6 142.5,18.7 142.8,18.8 143.2,18.8 143.6,18.9 143.9,19 144.3,19 144.6,19.1 145,19.2 145.3,19.3 145.7,19.3 146.1,19.4 146.4,19.5 146.8,19.6 147.1,19.6 147.5,19.7 147.8,19.8 148.2,19.9 148.6,20 148.9,20.1 149.3,20.1 149.6,20.2 150,20.3 150.3,20.4 150.7,20.5 151.1,20.6 151.4,20.7 151.8,20.8 152.1,20.9 152.5,21 152.8,21.1 153.2,21.2 153.6,21.3 153.9,21.3 154.3,21.4 154.6,21.6 155,21.7 155.3,21.8 155.7,21.9 156,22 156.4,22.1 156.8,22.2 157.1,22.3 157.5,22.4 157.8,22.5 158.2,22.6 158.5,22.7 158.9,22.8 159.3,23 159.6,23.1 160,23.2 160.3,23.3 160.7,23.4 161,23.5 161.4,23.7 161.8,23.8 162.1,23.9 162.5,24 162.8,24.2 163.2,24.3 163.5,24.4 163.9,24.5 164.3,24.7 164.6,24.8 165,24.9 165.3,25.1 165.7,25.2 166,25.3 166.4,25.5 166.8,25.6 167.1,25.7 167.5,25.9 167.8,26 168.2,26.2 168.5,26.3 168.9,26.4 169.2,26.6 169.6,26.7 170,26.9 170.3,27 170.7,27.2 171,27.3 171.4,27.5 171.7,27.6 172.1,27.8 172.5,27.9 172.8,28.1 173.2,28.2 173.5,28.4 173.9,28.5 174.2,28.7 174.6,28.8 175,29 175.3,29.2 175.7,29.3 176,29.5 176.4,29.6 176.7,29.8 177.1,30 177.5,30.1 177.8,30.3 178.2,30.5 178.5,30.7 178.9,30.8 179.2,31 179.6,31.2 180,31.3 180.3,31.5 180.7,31.7 181,31.9 181.4,32 181.7,32.2 182.1,32.4 182.4,32.6 182.8,32.8 183.2,33 183.5,33.1 183.9,33.3 184.2,33.5 184.6,33.7 184.9,33.9 185.3,34.1 185.7,34.3 186,34.5 186.4,34.7 186.7,34.9 187.1,35 187.4,35.2 187.8,35.4 188.2,35.6 188.5,35.8 188.9,36 189.2,36.2 189.6,36.4 189.9,36.7 190.3,36.9 190.7,37.1 191,37.3 191.4,37.5 191.7,37.7 192.1,37.9 192.4,38.1 192.8,38.3 193.2,38.5 193.5,38.8 193.9,39 194.2,39.2 194.6,39.4 194.9,39.6 195.3,39.9 195.6,40.1 196,40.3 196.4,40.5 196.7,40.8 197.1,41 197.4,41.2 197.8,41.4 198.1,41.7 198.5,41.9 198.9,42.1 199.2,42.4 199.6,42.6 199.9,42.8 200.3,43.1 200.6,43.3 201,43.6 201.4,43.8 201.7,44 202.1,44.3 202.4,44.5 202.8,44.8 203.1,45 203.5,45.3 203.9,45.5 204.2,45.8 204.6,46 204.9,46.3 205.3,46.5 205.6,46.8 206,47.1 206.3,47.3 206.7,47.6 207.1,47.8 207.4,48.1 207.8,48.4 208.1,48.6 208.5,48.9 208.8,49.2 209.2,49.4 209.6,49.7 209.9,50 210.3,50.2 210.6,50.5 211,50.8 211.3,51.1 211.7,51.4 212.1,51.6 212.4,51.9 212.8,52.2 213.1,52.5 213.5,52.8 213.8,53.1 214.2,53.3 214.6,53.6 214.9,53.9 215.3,54.2 215.6,54.5 216,54.8 216.3,55.1 216.7,55.4 217.1,55.7 217.4,56 217.8,56.3 218.1,56.6 218.5,56.9 218.8,57.2 219.2,57.5 219.5,57.8 219.9,58.1 220.3,58.4 220.6,58.8 221,59.1 221.3,59.4 221.7,59.7 222,60 222.4,60.3 222.8,60.7 223.1,61 223.5,61.3 223.8,61.6 224.2,62 224.5,62.3 224.9,62.6 225.3,63 225.6,63.3 226,63.6 226.3,64 226.7,64.3 227,64.6 227.4,65 227.8,65.3 228.1,65.7 228.5,66 228.8,66.4 229.2,66.7 229.5,67.1 229.9,67.4 230.3,67.8 230.6,68.1 231,68.5 231.3,68.8 231.7,69.2 232,69.5 232.4,69.9 232.7,70.3 233.1,70.6 233.5,71 233.8,71.4 234.2,71.8 234.5,72.1 234.9,72.5 235.2,72.9 235.6,73.3 236,73.6 236.3,74 236.7,74.4 237,74.8 237.4,75.2 237.7,75.6 238.1,75.9 238.5,76.3 238.8,76.7 239.2,77.1 239.5,77.5 239.9,77.9 240.2,78.3 240.6,78.7 241,79.1 241.3,79.5 241.7,79.9 242,80.3 242.4,80.8 242.7,81.2 243.1,81.6 243.5,82 243.8,82.4 244.2,82.8 244.5,83.3 244.9,83.7 245.2,84.1 245.6,84.5 245.9,85 246.3,85.4 246.7,85.8 247,86.3 247.4,86.7 247.7,87.2 248.1,87.6 248.4,88 248.8,88.5 249.2,88.9 249.5,89.4 249.9,89.8 250.2,90.3 250.6,90.7 250.9,91.2 251.3,91.7 251.7,92.1 252,92.6 252.4,93 252.7,93.5 253.1,94 253.4,94.5 253.8,94.9 254.2,95.4 254.5,95.9 254.9,96.4 255.2,96.8 255.6,97.3 255.9,97.8 256.3,98.3 256.7,98.8 257,99.3 257.4,99.8 257.7,100.3 258.1,100.8 258.4,101.3 258.8,101.8 259.1,102.3 259.5,102.8 259.9,103.3 260.2,103.8 260.6,104.4 260.9,104.9 261.3,105.4 261.6,105.9 262,106.4 262.4,107 262.7,107.5 263.1,108 263.4,108.6 263.8,109.1 264.1,109.7 264.5,110.2 264.9,110.7 265.2,111.3 265.6,111.8 265.9,112.4 266.3,112.9 266.6,113.5 267,114.1 267.4,114.6 267.7,115.2 268.1,115.8 268.4,116.3 268.8,116.9 269.1,117.5 269.5,118.1 269.9,118.7 270.2,119.2 270.6,119.8 270.9,120.4 271.3,121 271.6,121.6 272,122.2 272.3,122.8 272.7,123.4 273.1,124 273.4,124.6 273.8,125.2 274.1,125.9 274.5,126.5 274.8,127.1 275.2,127.7 275.6,128.4 275.9,129 276.3,129.6 276.6,130.3 277,130.9 277.3,131.6 277.7,132.2 278.1,132.9 278.4,133.5 278.8,134.2 279.1,134.8 279.5,135.5 279.8,136.2 280.2,136.8 280.6,137.5 280.9,138.2 281.3,138.9 281.6,139.6 282,140.2 282.3,140.9 282.7,141.6 283.1,142.3 283.4,143 283.8,143.7 284.1,144.5 284.5,145.2 284.8,145.9 285.2,146.6 285.5,147.3 285.9,148.1 286.3,148.8 286.6,149.5 287,150.3 287.3,151 287.7,151.8 288,152.5 288.4,153.3 288.8,154 289.1,154.8 289.5,155.6 289.8,156.4 290.2,157.1 290.5,157.9 290.9,158.7 291.3,159.5 291.6,160.3 292,161.1 292.3,161.9 292.7,162.7 293,163.5 293.4,164.3 293.8,165.2 294.1,166 294.5,166.8 294.8,167.7 295.2,168.5 295.5,169.4 295.9,170.2 296.3,171.1 296.6,172 297,172.8 297.3,173.7 297.7,174.6 298,175.5 298.4,176.4 298.7,177.3 299.1,178.2 299.5,179.1 299.8,180 300.2,180.9 300.5,181.8 300.9,182.8 301.2,183.7 301.6,184.7 302,185.6 302.3,186.6 302.7,187.5 303,188.5 303.4,189.5 303.7,190.5 304.1,191.5 304.5,192.5 304.8,193.5 305.2,194.5 305.5,195.5 305.9,196.6 306.2,197.6 306.6,198.6 307,199.7 307.3,200.7 307.7,201.8 308,202.9 308.4,204 308.7,205.1 309.1,206.2 309.5,207.3 309.8,208.4 310.2,209.5 310.5,210.7 310.9,211.8 311.2,213 311.6,214.1 311.9,215.3 312.3,216.5 312.7,217.7 313,218.9 313.4,220.1 313.7,221.3 314.1,222.6 314.4,223.8 314.8,225.1 315.2,226.4 315.5,227.6 315.9,228.9 316.2,230.3 316.6,231.6 316.9,232.9 317.3,234.3 317.7,235.6 318,237 318.4,238.4 318.7,239.8 319.1,241.2 319.4,242.6 319.8,244.1 320.2,245.6 320.5,247 320.9,248.5 321.2,250 321.6,251.6 321.9,253.1 322.3,254.7 322.7,256.3 323,257.9 323.4,259.5 323.7,261.2 324.1,262.8 324.4,264.5 324.8,266.2 325.1,268 325.5,269.7 325.9,271.5 326.2,273.3 326.6,275.1 326.9,277 327.3,278.9 327.6,280.8 328,282.8 328.4,284.7 328.7,286.7 329.1,288.8 329.4,290.9 329.8,293 330.1,295.1 330.5,297.3 330.9,299.5 331.2,301.8 331.6,304.1 331.9,306.5 332.3,308.9 332.6,311.3 333,313.8 333.4,316.4 333.7,319 334.1,321.7 334.4,324.4 334.8,327.3 335.1,330.1 335.5,333.1 335.9,336.1 336.2,339.2 336.6,342.4 336.9,345.7 337.3,349.1 337.6,352.6 338,356.2 338.3,360 338.7,363.8 339.1,367.9 339.4,372 339.8,376.4 340.1,380.9 340.5,385.6 340.8,390.6 341.2,395.8 341.6,401.2 341.9,407 342.3,413.1 342.6,419.6 343,426.5 343.3,432.2 352.6,432.2 353,428.3 353.3,422.6 353.7,417.4 354,412.5 354.4,407.8 354.8,403.4 355.1,399.3 355.5,395.4 355.8,391.7 356.2,388.1 356.5,384.7 356.9,381.5 357.3,378.4 357.6,375.4 358,372.6 358.3,369.9 358.7,367.2 359,364.7 359.4,362.3 359.8,359.9 360.1,357.7 360.5,355.5 360.8,353.4 361.2,351.3 361.5,349.3 361.9,347.4 362.2,345.6 362.6,343.7 363,342 363.3,340.3 363.7,338.6 364,337 364.4,335.5 364.7,334 365.1,332.5 365.5,331 365.8,329.7 366.2,328.3 366.5,327 366.9,325.7 367.2,324.4 367.6,323.2 368,322 368.3,320.8 368.7,319.7 369,318.6 369.4,317.5 369.7,316.4 370.1,315.4 370.5,314.4 370.8,313.4 371.2,312.4 371.5,311.5 371.9,310.6 372.2,309.7 372.6,308.8 373,307.9 373.3,307.1 373.7,306.3 374,305.5 374.4,304.7 374.7,303.9 375.1,303.2 375.4,302.5 375.8,301.7 376.2,301 376.5,300.4 376.9,299.7 377.2,299 377.6,298.4 377.9,297.8 378.3,297.2 378.7,296.6 379,296 379.4,295.4 379.7,294.8 380.1,294.3 380.4,293.8 380.8,293.2 381.2,292.7 381.5,292.2 381.9,291.8 382.2,291.3 382.6,290.8 382.9,290.4 383.3,289.9 383.7,289.5 384,289.1 384.4,288.6 384.7,288.2 385.1,287.9 385.4,287.5 385.8,287.1 386.2,286.7 386.5,286.4 386.9,286 387.2,285.7 387.6,285.4 387.9,285 388.3,284.7 388.6,284.4 389,284.1 389.4,283.8 389.7,283.6 390.1,283.3 390.4,283 390.8,282.8 391.1,282.5 391.5,282.3 391.9,282 392.2,281.8 392.6,281.6 392.9,281.4 393.3,281.2 393.6,281 394,280.8 394.4,280.6 394.7,280.4 395.1,280.3 395.4,280.1 395.8,279.9 396.1,279.8 396.5,279.6 396.9,279.5 397.2,279.4 397.6,279.2 397.9,279.1 398.3,279 398.6,278.9 399,278.8 399.4,278.7 399.7,278.6 400.1,278.5 400.4,278.4 400.8,278.4 401.1,278.3 401.5,278.2 401.8,278.2 402.2,278.1 402.6,278.1 402.9,278 403.3,278 403.6,278 404,277.9 404.3,277.9 404.7,277.9 405.1,277.9 405.4,277.9 405.8,277.9 406.1,277.9 406.5,277.9 406.8,277.9 407.2,277.9 407.6,278 407.9,278 408.3,278 408.6,278.1 409,278.1 409.3,278.2 409.7,278.2 410.1,278.3 410.4,278.3 410.8,278.4 411.1,278.5 411.5,278.5 411.8,278.6 412.2,278.7 412.6,278.8 412.9,278.9 413.3,279 413.6,279.1 414,279.2 414.3,279.3 414.7,279.4 415,279.6 415.4,279.7 415.8,279.8 416.1,279.9 416.5,280.1 416.8,280.2 417.2,280.4 417.5,280.5 417.9,280.7 418.3,280.8 418.6,281 419,281.2 419.3,281.3 419.7,281.5 420,281.7 420.4,281.9 420.8,282.1 421.1,282.3 421.5,282.4 421.8,282.6 422.2,282.9 422.5,283.1 422.9,283.3 423.3,283.5 423.6,283.7 424,283.9 424.3,284.2 424.7,284.4 425,284.6 425.4,284.9 425.8,285.1 426.1,285.4 426.5,285.6 426.8,285.9 427.2,286.1 427.5,286.4 427.9,286.7 428.2,286.9 428.6,287.2 429,287.5 429.3,287.8 429.7,288.1 430,288.4 430.4,288.7 430.7,289 431.1,289.3 431.5,289.6 431.8,289.9 432.2,290.2 432.5,290.5 432.9,290.9 433.2,291.2 433.6,291.5 434,291.9 434.3,292.2 434.7,292.5 435,292.9 435.4,293.3 435.7,293.6 436.1,294 436.5,294.3 436.8,294.7 437.2,295.1 437.5,295.5 437.9,295.8 438.2,296.2 438.6,296.6 439,297 439.3,297.4 439.7,297.8 440,298.2 440.4,298.6 440.7,299.1 441.1,299.5 441.4,299.9 441.8,300.3 442.2,300.8 442.5,301.2 442.9,301.6 443.2,302.1 443.6,302.5 443.9,303 444.3,303.5 444.7,303.9 445,304.4 445.4,304.9 445.7,305.3 446.1,305.8 446.4,306.3 446.8,306.8 447.2,307.3 447.5,307.8 447.9,308.3 448.2,308.8 448.6,309.3 448.9,309.9 449.3,310.4 449.7,310.9 450,311.4 450.4,312 450.7,312.5 451.1,313.1 451.4,313.6 451.8,314.2 452.2,314.8 452.5,315.3 452.9,315.9 453.2,316.5 453.6,317.1 453.9,317.7 454.3,318.3 454.6,318.9 455,319.5 455.4,320.1 455.7,320.7 456.1,321.3 456.4,321.9 456.8,322.6 457.1,323.2 457.5,323.9 457.9,324.5 458.2,325.2 458.6,325.8 458.9,326.5 459.3,327.2 459.6,327.8 460,328.5 460.4,329.2 460.7,329.9 461.1,330.6 461.4,331.3 461.8,332 462.1,332.8 462.5,333.5 462.9,334.2 463.2,335 463.6,335.7 463.9,336.5 464.3,337.3 464.6,338 465,338.8 465.4,339.6 465.7,340.4 466.1,341.2 466.4,342 466.8,342.8 467.1,343.6 467.5,344.5 467.8,345.3 468.2,346.1 468.6,347 468.9,347.9 469.3,348.7 469.6,349.6 470,350.5 470.3,351.4 470.7,352.3 471.1,353.2 471.4,354.1 471.8,355.1 472.1,356 472.5,356.9 472.8,357.9 473.2,358.9 473.6,359.9 473.9,360.8 474.3,361.8 474.6,362.9 475,363.9 475.3,364.9 475.7,365.9 476.1,367 476.4,368.1 476.8,369.1 477.1,370.2 477.5,371.3 477.8,372.4 478.2,373.6 478.6,374.7 478.9,375.9 479.3,377 479.6,378.2 480,379.4 480.3,380.6 480.7,381.8 481,383 481.4,384.3 481.8,385.6 482.1,386.8 482.5,388.1 482.8,389.4 483.2,390.8 483.5,392.1 483.9,393.5 484.3,394.9 484.6,396.3 485,397.7 485.3,399.1 485.7,400.6 486,402.1 486.4,403.6 486.8,405.1 487.1,406.6 487.5,408.2 487.8,409.8 488.2,411.4 488.5,413 488.9,414.7 489.3,416.4 489.6,418.1 490,419.9 490.3,421.7 490.7,423.5 491,425.3 491.4,427.2 491.7,429.1 492.1,431 492.5,432.2 535.3,432.2 535.6,431.9 536,430.9 536.3,430 536.7,429.2 537.1,428.3 537.4,427.4 537.8,426.6 538.1,425.8 538.5,425 538.8,424.2 539.2,423.4 539.6,422.7 539.9,422 540.3,421.2 540.6,420.5 541,419.8 541.3,419.2 541.7,418.5 542.1,417.8 542.4,417.2 542.8,416.6 543.1,416 543.5,415.4 543.8,414.8 544.2,414.2 544.5,413.6 544.9,413.1 545.3,412.5 545.6,412 546,411.5 546.3,411 546.7,410.5 547,410 547.4,409.5 547.8,409.1 548.1,408.6 548.5,408.2 548.8,407.7 549.2,407.3 549.5,406.9 549.9,406.5 550.3,406.1 550.6,405.7 551,405.3 551.3,404.9 551.7,404.5 552,404.2 552.4,403.8 552.8,403.5 553.1,403.2 553.5,402.8 553.8,402.5 554.2,402.2 554.5,401.9 554.9,401.6 555.3,401.3 555.6,401.1 556,400.8 556.3,400.5 556.7,400.3 557,400 557.4,399.8 557.7,399.6 558.1,399.3 558.5,399.1 558.8,398.9 559.2,398.7 559.5,398.5 559.9,398.3 560.2,398.1 560.6,397.9 561,397.8 561.3,397.6 561.7,397.4 562,397.3 562.4,397.1 562.7,397 563.1,396.8 563.5,396.7 563.8,396.6 564.2,396.5 564.5,396.4 564.9,396.2 565.2,396.1 565.6,396.1 566,396 566.3,395.9 566.7,395.8 567,395.7 567.4,395.7 567.7,395.6 568.1,395.5 568.5,395.5 568.8,395.4 569.2,395.4 569.5,395.4 569.9,395.3 570.2,395.3 570.6,395.3 570.9,395.3 571.3,395.3 571.7,395.3 572,395.3 572.4,395.3 572.7,395.3 573.1,395.3 573.4,395.3 573.8,395.4 574.2,395.4 574.5,395.4 574.9,395.5 575.2,395.5 575.6,395.6 575.9,395.6 576.3,395.7 576.7,395.7 577,395.8 577.4,395.9 577.7,396 578.1,396 578.4,396.1 578.8,396.2 579.2,396.3 579.5,396.4 579.9,396.5 580.2,396.6 580.6,396.8 580.9,396.9 581.3,397 581.7,397.1 582,397.3 582.4,397.4 582.7,397.5 583.1,397.7 583.4,397.8 583.8,398 584.1,398.1 584.5,398.3 584.9,398.5 585.2,398.7 585.6,398.8 585.9,399 586.3,399.2 586.6,399.4 587,399.6 587.4,399.8 587.7,400 588.1,400.2 588.4,400.4 588.8,400.6 589.1,400.8 589.5,401.1 589.9,401.3 590.2,401.5 590.6,401.7 590.9,402 591.3,402.2 591.6,402.5 592,402.7 592.4,403 592.7,403.3 593.1,403.5 593.4,403.8 593.8,404.1 594.1,404.3 594.5,404.6 594.9,404.9 595.2,405.2 595.6,405.5 595.9,405.8 596.3,406.1 596.6,406.4 597,406.7 597.3,407 597.7,407.3 598.1,407.7 598.4,408 598.8,408.3 599.1,408.6 599.5,409 599.8,409.3 600.2,409.7 600.6,410 600.9,410.4 601.3,410.7 601.6,411.1 602,411.5 602.3,411.9 602.7,412.2 603.1,412.6 603.4,413 603.8,413.4 604.1,413.8 604.5,414.2 604.8,414.6 605.2,415 605.6,415.4 605.9,415.8 606.3,416.2 606.6,416.6 607,417.1 607.3,417.5 607.7,417.9 608.1,418.4 608.4,418.8 608.8,419.3 609.1,419.7 609.5,420.2 609.8,420.6 610.2,421.1 610.5,421.6 610.9,422.1 611.3,422.5 611.6,423 612,423.5 612.3,424 612.7,424.5 613,425 613.4,425.5 613.8,426 614.1,426.5 614.5,427.1 614.8,427.6 615.2,428.1 615.5,428.7 615.9,429.2 616.3,429.7 616.6,430.3 617,430.8 617.3,431.4 617.7,432" stroke="#6b4f89" stroke-width="2.7" fill="none" stroke-linejoin="round" stroke-linecap="square"/>
<path d="M120.8,16.7H622.2" stroke="#333337" stroke-width="1.9" fill="none"/>
<g opacity="0.999">
<g style="font-family:'Liberation Serif',serif;fill:#2a2a2e;font-size:29.5px">
<text transform="translate(113.7,34) rotate(0.03) scale(1,1.015)" text-anchor="end">10<tspan dy="-13.9" dx="-1.1">0</tspan></text>
<text transform="translate(113.7,139) rotate(0.03) scale(1,1.015)" text-anchor="end">10<tspan dy="-13.9">-1</tspan></text>
<text transform="translate(113.7,244) rotate(0.03) scale(1,1.015)" text-anchor="end">10<tspan dy="-13.9">-2</tspan></text>
<text transform="translate(113.7,349) rotate(0.03) scale(1,1.015)" text-anchor="end">10<tspan dy="-13.9">-3</tspan></text>
<text transform="translate(122.2,466.6) rotate(0.03) scale(1,1.015)" text-anchor="middle">0</text>
<text transform="translate(264.9,466.6) rotate(0.03) scale(1,1.015)" text-anchor="middle">100</text>
<text transform="translate(407.6,466.6) rotate(0.03) scale(1,1.015)" text-anchor="middle">200</text>
<text transform="translate(550.3,466.6) rotate(0.03) scale(1,1.015)" text-anchor="middle">300</text>
</g>
<text x="300" y="506.8" xml:space="preserve" style="font-family:'Liberation Serif',serif;fill:#2a2a2e;font-size:30px">q  [MeV/c]</text>
<g transform="translate(27.4,298.4) rotate(-90)" style="font-family:'Liberation Serif',serif;fill:#2a2a2e;font-size:33px">
<rect x="2.45" y="-21.8" width="1.7" height="21.8" fill="#2a2a2e"/>
<text x="6.6" y="0">F</text>
<text x="24.95" y="8.1" font-size="25">ch</text>
<text x="50" y="0">(</text><text x="60.2" y="0">q</text><text x="75.2" y="0">)</text>
<rect x="88.25" y="-21.8" width="1.7" height="21.8" fill="#2a2a2e"/>
<text x="92.9" y="-9.3" font-size="25.5">2</text>
<line x1="107.7" y1="5.9" x2="117.1" y2="-23" stroke="#2a2a2e" stroke-width="2.1"/>
<text x="118" y="0">Z</text>
<text x="137.2" y="-9.2" font-size="25.5">2</text>
</g>
<text x="372.5" y="116.4" xml:space="preserve" style="font-family:'Liberation Sans',sans-serif;font-size:29px;fill:#2a2a2e">Sn   isotopes</text>
</g>
</svg>
</body></html>
